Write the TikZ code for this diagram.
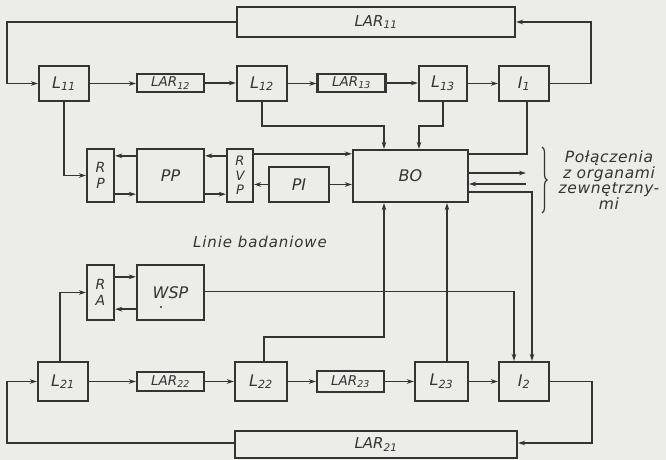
\documentclass[tikz,border=0pt]{standalone}
\usepackage{fontspec}
\setmainfont{DejaVu Sans}
\usetikzlibrary{arrows.meta,decorations.pathreplacing,calc}
\definecolor{ink}{RGB}{52,52,52}
\definecolor{paper}{RGB}{236,236,233}
\newcommand\fBox{\fontsize{16}{16}\selectfont\itshape}
\newcommand\fSm{\fontsize{13.5}{13.5}\selectfont\itshape}
\newcommand\fMid{\fontsize{15}{15}\selectfont\itshape}
\newcommand\fStack{\fontsize{14}{16}\selectfont\itshape}
\newcommand\fStackB{\fontsize{13}{14.5}\selectfont\itshape}
\newcommand\fExt{\fontsize{15.5}{13.4}\selectfont\itshape\addfontfeatures{LetterSpace=4}}
\newcommand\fLin{\fontsize{15}{15}\selectfont\itshape\addfontfeatures{LetterSpace=6}}
\begin{document}
\begin{tikzpicture}[x=1pt,y=-1pt,
  blk/.style={draw=ink,line width=2.3pt,inner sep=0pt,text=ink,font=\fBox},
  conn/.style={draw=ink,line width=1.5pt},
  arr/.style={conn,-{Stealth[length=7pt,width=4.6pt]}}]
\fill[paper] (0,0) rectangle (666,460);
\useasboundingbox (0,0) rectangle (666,460);
% ---- top row
\node[blk,minimum width=278pt,minimum height=30pt,font=\fMid] (LAR11) at (376,22) {LAR\textsubscript{11}};
\node[blk,minimum width=50pt,minimum height=35pt] (L11) at (64,83.5) {L\textsubscript{11}};
\node[blk,minimum width=67pt,minimum height=18pt,font=\fSm] (LAR12) at (170.5,83) {LAR\textsubscript{12}};
\node[blk,minimum width=50pt,minimum height=35pt] (L12) at (262,83.5) {L\textsubscript{12}};
\node[blk,minimum width=68pt,minimum height=18pt,font=\fSm] (LAR13) at (351.5,83) {LAR\textsubscript{13}};
\node[blk,minimum width=48pt,minimum height=35pt] (L13) at (443,83.5) {L\textsubscript{13}};
\node[blk,minimum width=50pt,minimum height=35pt] (I1) at (524,83.5) {I\textsubscript{1}};
% ---- middle
\node[blk,minimum width=27pt,minimum height=53pt,align=center,font=\fStack] (RP) at (100.5,175.5) {R\\P};
\node[blk,minimum width=67pt,minimum height=53pt] (PP) at (170.5,175.5) {PP};
\node[blk,minimum width=26pt,minimum height=53pt,align=center,font=\fStackB] (RVP) at (240,175.5) {R\\V\\P};
\node[blk,minimum width=60pt,minimum height=35pt] (PI) at (299,184.5) {PI};
\node[blk,minimum width=115pt,minimum height=52pt] (BO) at (410.5,176) {BO};
\node[text=ink,font=\fLin] (lin) at (260,242) {Linie badaniowe};
\node[blk,minimum width=27pt,minimum height=55pt,align=center,font=\fStack] (RA) at (100.5,292.5) {R\\A};
\node[blk,minimum width=67pt,minimum height=55pt] (WSP) at (170.5,292.5) {WSP};
\fill[ink] ([xshift=-9.5pt,yshift=-14.5pt]WSP.center) circle (1.1pt);
% ---- bottom row
\node[blk,minimum width=50pt,minimum height=39pt] (L21) at (63,381.5) {L\textsubscript{21}};
\node[blk,minimum width=67pt,minimum height=19pt,font=\fSm] (LAR22) at (170.5,381.5) {LAR\textsubscript{22}};
\node[blk,minimum width=52pt,minimum height=39pt] (L22) at (261,381.5) {L\textsubscript{22}};
\node[blk,minimum width=67pt,minimum height=21pt,font=\fSm] (LAR23) at (350.5,381.5) {LAR\textsubscript{23}};
\node[blk,minimum width=53pt,minimum height=39pt] (L23) at (441.5,381.5) {L\textsubscript{23}};
\node[blk,minimum width=50pt,minimum height=39pt] (I2) at (524,381.5) {I\textsubscript{2}};
\node[blk,minimum width=282pt,minimum height=27pt,font=\fMid] (LAR21) at (376,444.5) {LAR\textsubscript{21}};
% ---- external connections
\node[text=ink,font=\fExt,align=center,inner sep=0pt] (ext) at (609,180) {Połączenia\\z organami\\zewnętrzny-\\mi};
\coordinate (br1) at (542,147);
\coordinate (br2) at (542,213);
\draw[draw=ink,line width=1.2pt,decorate,decoration={brace,amplitude=5pt}] (br1) -- (br2);
% ---- connectors: top row
\coordinate (cl1) at (7,22);
\coordinate (cr1) at (591,22);
\draw[arr] (LAR11.west) -- (cl1) |- (L11.west);
\draw[arr] (I1.east) -| (cr1) -- (LAR11.east);
\draw[arr] (L11.east) -- (LAR12.west |- L11.east);
\draw[arr] (LAR12.east) -- (L12.west |- LAR12.east);
\draw[arr] (L12.east) -- (LAR13.west |- L12.east);
\draw[arr] (LAR13.east) -- (L13.west |- LAR13.east);
\draw[arr] (L13.east) -- (I1.west);
\coordinate (cb1) at (384,126);
\coordinate (cb2) at (419,126);
\draw[arr] (L12.south) |- (cb1) -- (cb1 |- BO.north);
\draw[arr] (L13.south) |- (cb2) -- (cb2 |- BO.north);
\coordinate (cb3) at ([yshift=-5pt]BO.north east);
\draw[conn] ([xshift=3pt]I1.south) |- (cb3);
% ---- middle connectors
\draw[arr] (L11.south) |- (RP.west);
\draw[arr] ([yshift=-8pt]PP.north west) -- ([yshift=-8pt]RP.north east);
\draw[arr] ([yshift=9pt]RP.south east) -- ([yshift=9pt]PP.south west);
\draw[arr] ([yshift=-8pt]RVP.north west) -- ([yshift=-8pt]PP.north east);
\draw[arr] ([yshift=9pt]PP.south east) -- ([yshift=9pt]RVP.south west);
\coordinate (rt) at ([yshift=-6pt]RVP.north east);
\draw[arr] (rt) -- (rt -| BO.west);
\draw[arr] (PI.west) -- (PI.west -| RVP.east);
\draw[arr] (PI.east) -- (PI.east -| BO.west);
\coordinate (bo1) at ([yshift=3pt]BO.east);
\coordinate (ex1) at (526,173);
\draw[arr] (bo1) -- (ex1);
\coordinate (ex2) at (526,184);
\draw[arr] (ex2) -- (ex2 -| BO.east);
\coordinate (bo3) at ([yshift=-16pt]BO.east);
\coordinate (i2b) at ([xshift=8pt]I2.north);
\draw[arr] (bo3) -| (i2b);
\coordinate (i2a) at ([xshift=-10pt]I2.north);
\draw[arr] ([yshift=1pt]WSP.east) -| (i2a);
% ---- lower connectors
\draw[arr] ([xshift=-3pt]L21.north) |- (RA.west);
\draw[arr] ([yshift=-13pt]RA.north east) -- ([yshift=-13pt]WSP.north west);
\draw[arr] ([yshift=12pt]WSP.south west) -- ([yshift=12pt]RA.south east);
\coordinate (c22) at (384,337);
\draw[arr] ([xshift=3pt]L22.north) |- (c22) -- (c22 |- BO.south);
\coordinate (l23t) at ([xshift=5.5pt]L23.north);
\draw[arr] (l23t) -- (l23t |- BO.south);
% ---- bottom row
\draw[arr] (L21.east) -- (LAR22.west);
\draw[arr] (LAR22.east) -- (L22.west);
\draw[arr] (L22.east) -- (LAR23.west);
\draw[arr] (LAR23.east) -- (L23.west);
\draw[arr] (L23.east) -- (I2.west);
\coordinate (cl2) at (7,443);
\coordinate (cr2) at (592,443);
\draw[arr] (LAR21.west |- cl2) -- (cl2) |- (L21.west);
\draw[arr] (I2.east) -| (cr2) -- (LAR21.east |- cr2);
\end{tikzpicture}
\end{document}
